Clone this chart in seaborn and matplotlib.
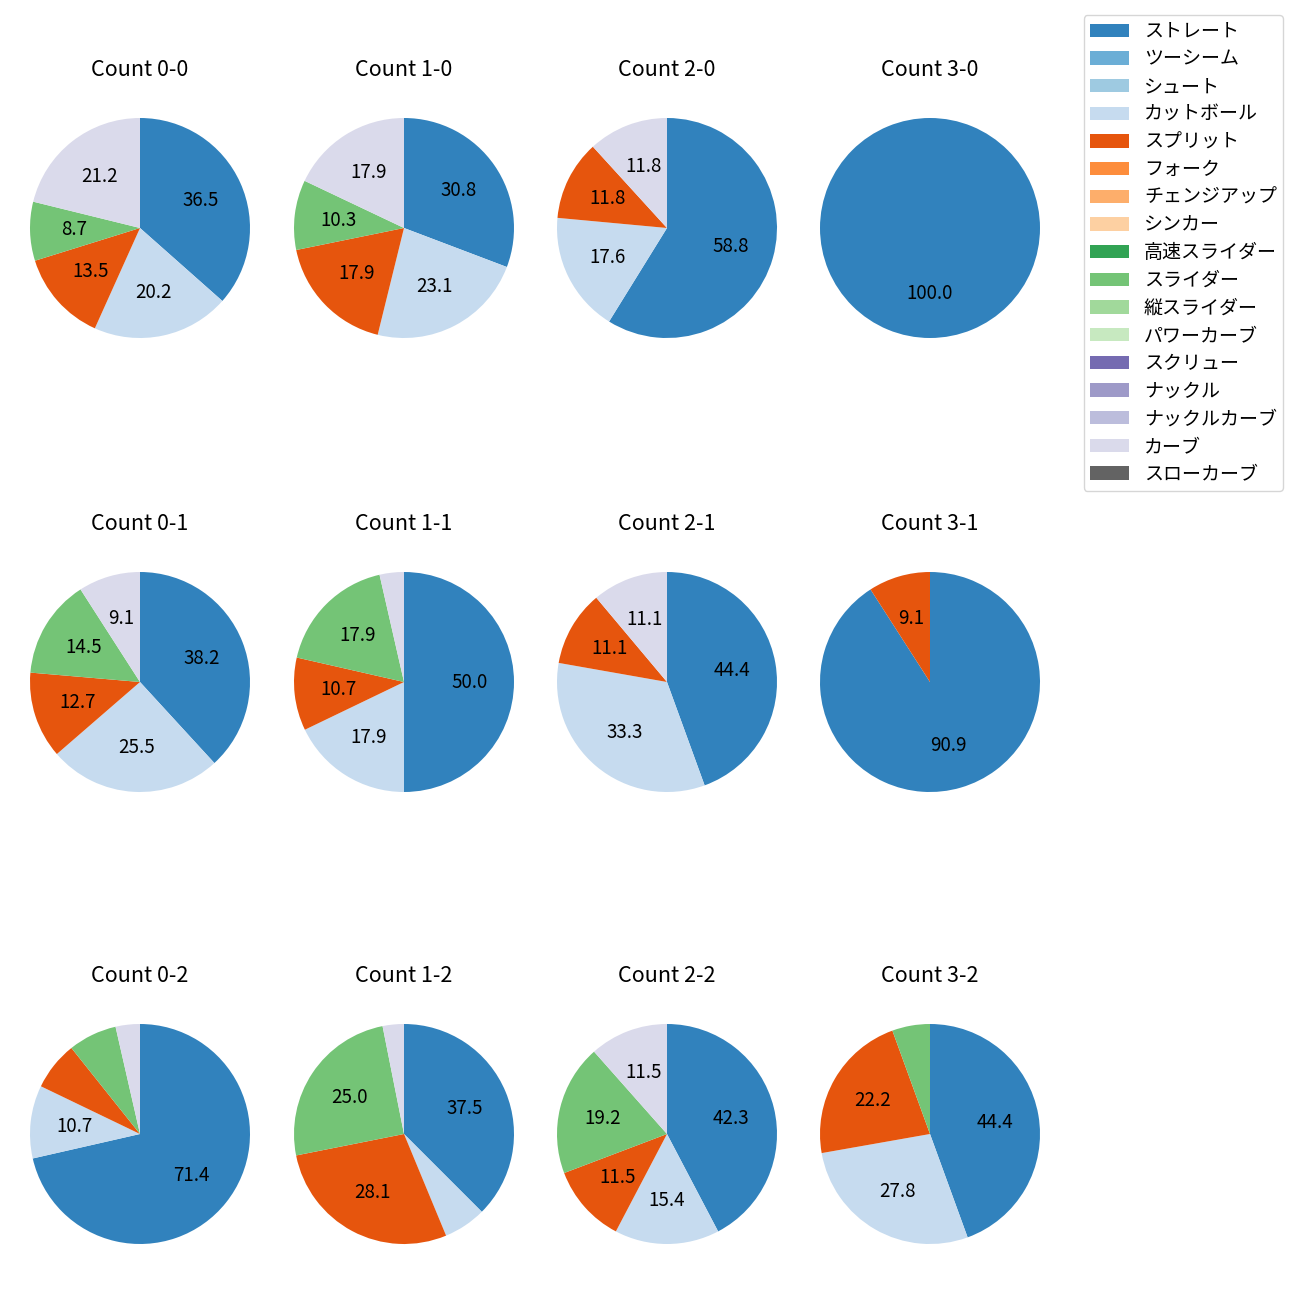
import matplotlib
matplotlib.use("Agg")
import matplotlib.pyplot as plt
import matplotlib.patches as mpatches
import seaborn as sns

sns.set_theme(style="white")
plt.rcParams['font.family'] = ['Noto Sans CJK JP', 'DejaVu Sans']
plt.rcParams['text.color'] = 'black'

pitch_types = ["ストレート", "ツーシーム", "シュート", "カットボール", "スプリット", "フォーク",
               "チェンジアップ", "シンカー", "高速スライダー", "スライダー", "縦スライダー",
               "パワーカーブ", "スクリュー", "ナックル", "ナックルカーブ", "カーブ", "スローカーブ"]
palette = sns.color_palette("tab20c", 17)

counts = ["0-0", "1-0", "2-0", "3-0",
          "0-1", "1-1", "2-1", "3-1",
          "0-2", "1-2", "2-2", "3-2"]

# pitch counts per ball-strike count (percentages shown come from these)
straight = [38, 12, 10, 1, 21, 14, 4, 10, 20, 12, 11, 8]
cutter   = [21, 9, 3, 0, 14, 5, 3, 0, 3, 2, 4, 5]
split    = [14, 7, 2, 0, 7, 3, 1, 1, 2, 9, 3, 4]
slider   = [9, 4, 0, 0, 8, 5, 0, 0, 2, 8, 5, 1]
curve    = [22, 7, 2, 0, 5, 1, 1, 0, 1, 1, 3, 0]

series = [("ストレート", straight), ("カットボール", cutter), ("スプリット", split),
          ("スライダー", slider), ("カーブ", curve)]
color_of = dict(zip(pitch_types, palette))

W, H = 1300, 1300
fig = plt.figure(figsize=(13, 13), dpi=100)

col_x = [140, 404, 667, 930]
row_y = [228, 682, 1134]
size = 275

for k, cnt in enumerate(counts):
    r, c = divmod(k, 4)
    cx, cy = col_x[c], row_y[r]
    ax = fig.add_axes([(cx - size / 2) / W, 1 - (cy + size / 2) / H, size / W, size / H])
    vals, cols = [], []
    for name, arr in series:
        if arr[k] > 0:
            vals.append(arr[k])
            cols.append(color_of[name])
    ax.pie(vals, colors=cols, startangle=90, counterclock=False,
           autopct=lambda p: f"{p:.1f}" if p >= 8 else "",
           pctdistance=0.6, textprops={'fontsize': 13.5},
           wedgeprops={'linewidth': 0})
    ax.set_xlim(-1.25, 1.25)
    ax.set_ylim(-1.25, 1.25)
    ax.set_aspect('equal')
    ax.set_title(f"Count {cnt}", fontsize=15.5, pad=10.5)

handles = [mpatches.Patch(color=color_of[n], label=n, linewidth=0) for n in pitch_types]
fig.legend(handles=handles, loc='upper right', bbox_to_anchor=(1283 / W, 1 - 15 / H),
           borderaxespad=0, fontsize=13.7, frameon=True, borderpad=0.32,
           labelspacing=0.35, handlelength=2.05)

fig.savefig("out.png", dpi=100)
